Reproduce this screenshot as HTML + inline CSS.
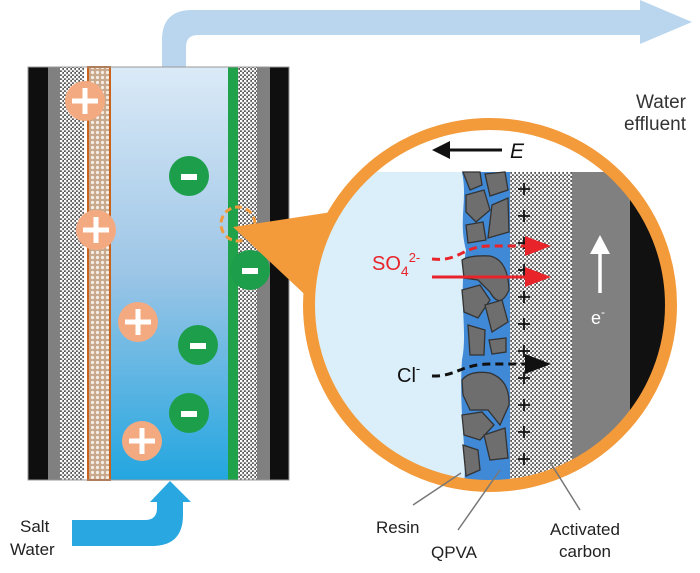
<!DOCTYPE html>
<html><head><meta charset="utf-8"><style>body{margin:0;background:#fff}svg{display:block}</style></head><body>
<svg width="700" height="573" viewBox="0 0 700 573" xmlns="http://www.w3.org/2000/svg" font-family="Liberation Sans, sans-serif">
<defs>
<pattern id="dots" width="4" height="4" patternUnits="userSpaceOnUse"><rect width="4" height="4" fill="#555"/><circle cx="1" cy="1" r="1.4" fill="#fff"/><circle cx="3" cy="3" r="1.3" fill="#eee"/></pattern>
<pattern id="hatch" width="5" height="5" patternUnits="userSpaceOnUse"><rect width="5" height="5" fill="#c9a98c"/><circle cx="2.5" cy="2.5" r="1.6" fill="#f4eee6"/></pattern>
<linearGradient id="water" x1="0" y1="0" x2="0" y2="1"><stop offset="0" stop-color="#dbeaf7"/><stop offset="0.5" stop-color="#9cc5e6"/><stop offset="1" stop-color="#23a6e0"/></linearGradient>
<clipPath id="cc"><circle cx="490" cy="305" r="181"/></clipPath>
</defs>
<path d="M162 68 V40 Q162 10 192 10 H645 V35 H198 Q186 35 186 47 V68 Z" fill="#b9d6ee"/>
<polygon points="640,0 692,22 640,44" fill="#b9d6ee"/>
<text x="686" y="108" font-size="19" fill="#333" text-anchor="end">Water</text>
<text x="686" y="130" font-size="19" fill="#333" text-anchor="end">effluent</text>
<rect x="28" y="67" width="261" height="413" fill="#0f0f0f"/>
<rect x="48" y="67" width="12" height="413" fill="#808080"/>
<rect x="60" y="67" width="24" height="413" fill="url(#dots)"/>
<rect x="84" y="67" width="4" height="413" fill="#fff"/>
<rect x="88" y="67" width="22" height="413" fill="url(#hatch)" stroke="#c8641e" stroke-width="2"/>
<rect x="111" y="67" width="117" height="413" fill="url(#water)"/>
<rect x="228" y="67" width="10" height="413" fill="#1fa24a"/>
<rect x="238" y="67" width="19" height="413" fill="url(#dots)"/>
<rect x="257" y="67" width="13" height="413" fill="#808080"/>
<rect x="28" y="67" width="261" height="413" fill="none" stroke="#999" stroke-width="1"/>
<g fill="#f4aa80">
<circle cx="85" cy="101" r="20"/><circle cx="96" cy="230" r="20"/><circle cx="138" cy="322" r="20"/><circle cx="142" cy="441" r="20"/></g>
<g stroke="#fff" stroke-width="5">
<path d="M85 88V114M72 101H98M96 217V243M83 230H109M138 309V335M125 322H151M142 428V454M129 441H155"/></g>
<g fill="#1d9e4a">
<circle cx="189" cy="176" r="20"/><circle cx="250" cy="270" r="20"/><circle cx="198" cy="345" r="20"/><circle cx="189" cy="413" r="20"/></g>
<g stroke="#fff" stroke-width="6"><path d="M181 177H197M242 271H258M190 346H206M181 414H197"/></g>
<polygon points="233,227 332,212 316,305" fill="#f39a3a"/>
<circle cx="238" cy="224" r="17" fill="none" stroke="#f39a3a" stroke-width="3" stroke-dasharray="7,4"/>
<circle cx="490" cy="305" r="181" fill="#fff"/>
<g clip-path="url(#cc)">
<rect x="300" y="172" width="170" height="330" fill="#dbeffa"/>
<path d="M462 172 C468 200 458 220 466 250 C458 300 468 330 462 360 C458 420 470 460 462 500 H510 V172Z" fill="#3f89d6"/>
<rect x="510" y="172" width="62" height="330" fill="url(#dots)"/>
<rect x="572" y="172" width="58" height="330" fill="#808080"/>
<rect x="630" y="172" width="60" height="330" fill="#111"/>
<g fill="#6e6e6e" stroke="#333" stroke-width="1.3">
<path d="M463 172 L480 172 L482 185 L470 190Z"/>
<path d="M485 174 L505 172 L508 190 L490 196Z"/>
<path d="M466 195 L484 190 L490 210 L476 222 L466 212Z"/>
<path d="M492 205 L508 198 L509 232 L488 238Z"/>
<path d="M466 225 L483 222 L486 240 L468 243Z"/>
<path d="M462 260 Q470 255 490 256 Q508 260 509 290 Q500 310 490 292 L478 280 L464 278Z"/>
<path d="M462 290 L480 285 L490 300 L478 318 L464 312Z"/>
<path d="M485 305 L502 300 L508 322 L492 332Z"/>
<path d="M468 325 L485 330 L484 355 L470 355Z"/>
<path d="M489 340 L506 338 L506 352 L492 354Z"/>
<path d="M462 380 Q470 370 490 373 Q510 380 509 405 L500 425 L488 410 L470 410 L463 395Z"/>
<path d="M462 415 L482 412 L494 425 L480 440 L464 435Z"/>
<path d="M484 435 L505 428 L508 458 L490 460Z"/>
<path d="M463 445 L478 450 L480 470 L466 476Z"/>
</g>
<g stroke="#111" stroke-width="1.8">
<path d="M518 189H530M524 183V195M518 216H530M524 210V222M518 243H530M524 237V249M518 270H530M524 264V276M518 297H530M524 291V303M518 324H530M524 318V330M518 351H530M524 345V357M518 378H530M524 372V384M518 405H530M524 399V411M518 432H530M524 426V438M518 459H530M524 453V465"/></g>
</g>
<circle cx="490" cy="305" r="181" fill="none" stroke="#f39a3a" stroke-width="12"/>
<line x1="448" y1="150" x2="502" y2="150" stroke="#111" stroke-width="3"/>
<polygon points="432,150 450,141 450,159" fill="#111"/>
<text x="510" y="158" font-size="21" font-style="italic" fill="#111">E</text>
<text x="372" y="270" font-size="20" fill="#e8242a">SO<tspan font-size="14" dy="6">4</tspan><tspan font-size="13" dy="-14">2-</tspan></text>
<path d="M432 259 C460 262 462 246 490 246 H528" fill="none" stroke="#e8242a" stroke-width="3" stroke-dasharray="8,5"/>
<polygon points="525,236 551,246 525,256" fill="#e8242a"/>
<line x1="432" y1="277" x2="528" y2="277" stroke="#e8242a" stroke-width="3"/>
<polygon points="525,267 551,277 525,287" fill="#e8242a"/>
<text x="397" y="382" font-size="20" fill="#111">Cl<tspan font-size="13" dy="-9">-</tspan></text>
<path d="M432 376 C455 377 462 364 490 364 H528" fill="none" stroke="#111" stroke-width="3" stroke-dasharray="8,5"/>
<polygon points="525,354 551,364 525,374" fill="#111"/>
<line x1="600" y1="293" x2="600" y2="250" stroke="#fff" stroke-width="3.5"/>
<polygon points="590,254 600,235 610,254" fill="#fff"/>
<text x="591" y="324" font-size="18" fill="#fff">e<tspan font-size="12" dy="-8">-</tspan></text>
<g stroke="#777" stroke-width="1.5">
<line x1="413" y1="505" x2="461" y2="473"/>
<line x1="458" y1="530" x2="500" y2="470"/>
<line x1="580" y1="510" x2="550" y2="462"/></g>
<g font-size="17" fill="#222">
<text x="376" y="533">Resin</text>
<text x="431" y="558">QPVA</text>
<text x="585" y="535" text-anchor="middle">Activated</text>
<text x="585" y="557" text-anchor="middle">carbon</text>
<text x="20" y="532">Salt</text>
<text x="10" y="555">Water</text></g>
<path d="M72 520 H145 Q157 520 157 508 V500 H183 V515 Q183 546 152 546 H72Z" fill="#29a7e0"/>
<polygon points="150,502 170,481 191,502" fill="#29a7e0"/>
</svg>
</body></html>
